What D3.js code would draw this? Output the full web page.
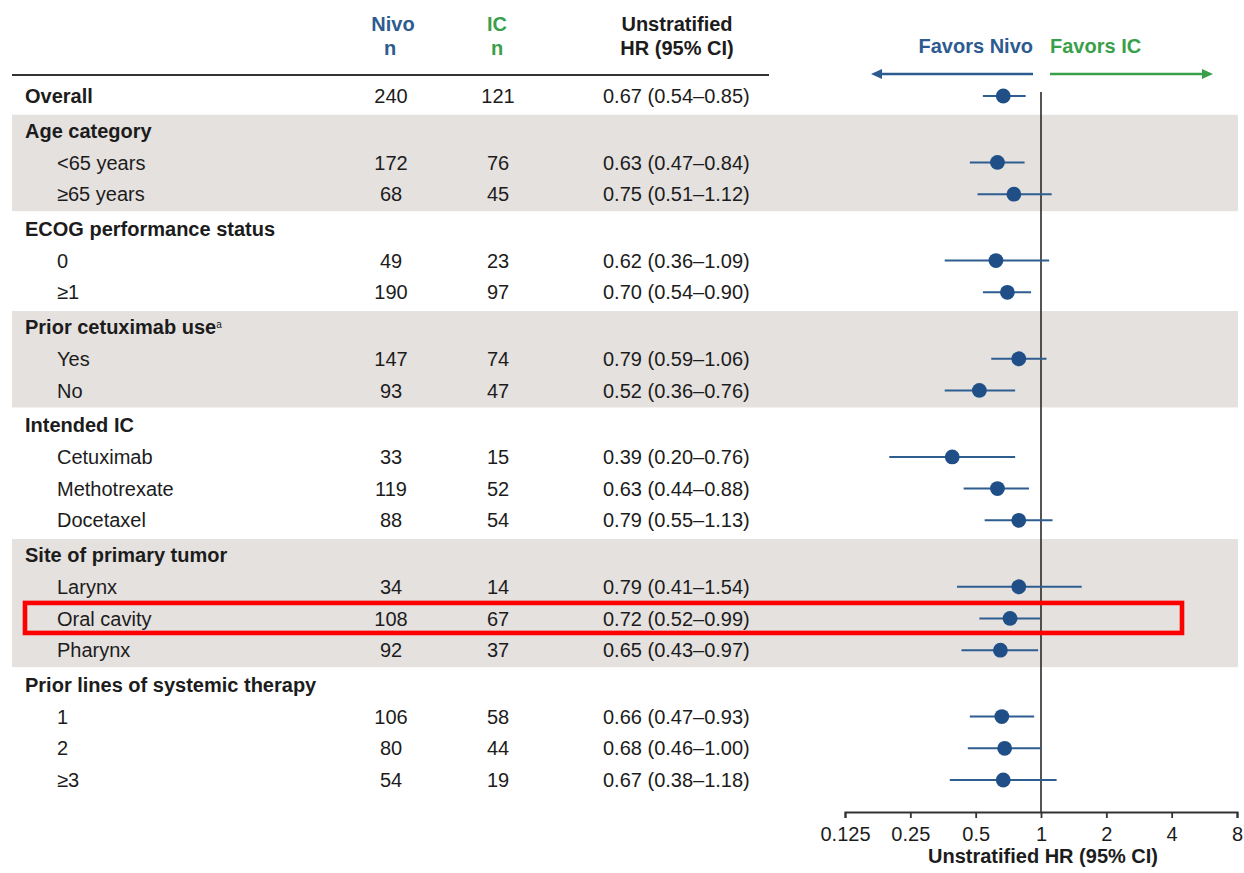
<!DOCTYPE html>
<html>
<head>
<meta charset="utf-8">
<script src="https://cdn.jsdelivr.net/npm/d3@7"></script>
<style>
  html, body { margin: 0; padding: 0; background: #ffffff; }
  svg { display: block; font-family: "Liberation Sans", Arial, sans-serif; }
</style>
</head>
<body>
<svg id="chart" width="1244" height="873"></svg>
<script>
// Subgroup rows of the forest plot
const rowLabels = [
  "Overall", "Age category", "<65 years", "≥65 years",
  "ECOG performance status", "0", "≥1",
  "Prior cetuximab use", "Yes", "No",
  "Intended IC", "Cetuximab", "Methotrexate", "Docetaxel",
  "Site of primary tumor", "Larynx", "Oral cavity", "Pharynx",
  "Prior lines of systemic therapy", "1", "2", "≥3"
];
const rowKinds = [
  "total", "group", "sub", "sub",
  "group", "sub", "sub",
  "group", "sub", "sub",
  "group", "sub", "sub", "sub",
  "group", "sub", "sub", "sub",
  "group", "sub", "sub", "sub"
];
const nivoN = [240, null, 172, 68, null, 49, 190, null, 147, 93, null, 33, 119, 88, null, 34, 108, 92, null, 106, 80, 54];
const icN   = [121, null, 76, 45, null, 23, 97, null, 74, 47, null, 15, 52, 54, null, 14, 67, 37, null, 58, 44, 19];
const hrEst = [0.67, null, 0.63, 0.75, null, 0.62, 0.70, null, 0.79, 0.52, null, 0.39, 0.63, 0.79, null, 0.79, 0.72, 0.65, null, 0.66, 0.68, 0.67];
const hrLow = [0.54, null, 0.47, 0.51, null, 0.36, 0.54, null, 0.59, 0.36, null, 0.20, 0.44, 0.55, null, 0.41, 0.52, 0.43, null, 0.47, 0.46, 0.38];
const hrHigh = [0.85, null, 0.84, 1.12, null, 1.09, 0.90, null, 1.06, 0.76, null, 0.76, 0.88, 1.13, null, 1.54, 0.99, 0.97, null, 0.93, 1.00, 1.18];

const shadedGroups = ["Age category", "Prior cetuximab use", "Site of primary tumor"];
const superscripts = { "Prior cetuximab use": "a" };
const highlightedRow = "Oral cavity";

const axisTicks = [0.125, 0.25, 0.5, 1, 2, 4, 8];
const axisTitle = "Unstratified HR (95% CI)";
const favorLeft = "Favors Nivo";
const favorRight = "Favors IC";

const colNivo = "#2d5b8f";
const colIC = "#3a9f4a";
const colMark = "#1f4f86";
const colLine = "#2e5d90";
const colText = "#1c1c1c";
const colBand = "#e4e1df";

const rows = rowLabels.map((label, i) => ({
  label, kind: rowKinds[i], nivo: nivoN[i], ic: icN[i],
  hr: hrEst[i], lo: hrLow[i], hi: hrHigh[i]
}));

// group headers sit slightly further from the row above them
let units = 0;
rows.forEach((r, i) => {
  if (i > 0) units += r.kind === "group" ? 1.096 : 1;
  r.u = units;
});

const svg = d3.select("#chart");
const y = d3.scaleLinear().domain([0, units]).range([96, 780]);
const x = d3.scaleLog().base(2).domain([0.125, 8]).range([845, 1237]);

const fs = 20;
const fmt = d3.format(".2f");

// shaded bands behind selected groups
shadedGroups.forEach(g => {
  const start = rows.findIndex(r => r.label === g);
  let end = start + 1;
  while (end < rows.length && rows[end].kind === "sub") end++;
  const top = y(rows[start].u) - 16;
  const bottom = y(rows[end - 1].u) + 17;
  svg.append("rect")
    .attr("x", 12).attr("y", top)
    .attr("width", 1226).attr("height", bottom - top)
    .attr("fill", colBand);
});

// column headers
const hdr = svg.append("g").attr("font-weight", "bold").attr("font-size", fs).attr("text-anchor", "middle");
hdr.append("text").attr("x", 393).attr("y", 31).attr("fill", colNivo).text("Nivo");
hdr.append("text").attr("x", 390).attr("y", 55).attr("fill", colNivo).text("n");
hdr.append("text").attr("x", 497).attr("y", 31).attr("fill", colIC).text("IC");
hdr.append("text").attr("x", 497).attr("y", 55).attr("fill", colIC).text("n");
hdr.append("text").attr("x", 677).attr("y", 31).attr("fill", colText).text("Unstratified");
hdr.append("text").attr("x", 677).attr("y", 55).attr("fill", colText).text("HR (95% CI)");

svg.append("line")
  .attr("x1", 12).attr("x2", 769).attr("y1", 75).attr("y2", 75)
  .attr("stroke", "#333").attr("stroke-width", 2.2);

// row labels and values
const rowG = svg.append("g").attr("font-size", fs).attr("fill", colText);
rows.forEach(r => {
  const cy = y(r.u);
  const t = rowG.append("text")
    .attr("x", r.kind === "sub" ? 57 : 25)
    .attr("y", cy).attr("dy", "0.36em")
    .attr("font-weight", r.kind === "sub" ? "normal" : "bold")
    .text(r.label);
  if (superscripts[r.label]) {
    t.append("tspan").attr("font-size", 10).attr("font-weight", "normal")
      .attr("dy", "-0.6em").text(superscripts[r.label]);
  }
  if (r.nivo != null) {
    rowG.append("text").attr("x", 391).attr("y", cy).attr("dy", "0.36em")
      .attr("text-anchor", "middle").text(r.nivo);
    rowG.append("text").attr("x", 498).attr("y", cy).attr("dy", "0.36em")
      .attr("text-anchor", "middle").text(r.ic);
    rowG.append("text").attr("x", 603).attr("y", cy).attr("dy", "0.36em")
      .text(`${fmt(r.hr)} (${fmt(r.lo)}–${fmt(r.hi)})`);
  }
});

// favors labels and arrows
const fav = svg.append("g").attr("font-weight", "bold").attr("font-size", fs);
fav.append("text").attr("x", 1033).attr("y", 53).attr("text-anchor", "end").attr("fill", colNivo).text(favorLeft);
fav.append("text").attr("x", 1050).attr("y", 53).attr("fill", colIC).text(favorRight);

const arrowY = 74;
svg.append("line").attr("x1", 878).attr("x2", 1033).attr("y1", arrowY).attr("y2", arrowY)
  .attr("stroke", colNivo).attr("stroke-width", 2.5);
svg.append("path").attr("d", `M871,${arrowY} L882,${arrowY - 5} L882,${arrowY + 5} Z`).attr("fill", colNivo);
svg.append("line").attr("x1", 1050).attr("x2", 1206).attr("y1", arrowY).attr("y2", arrowY)
  .attr("stroke", colIC).attr("stroke-width", 2.5);
svg.append("path").attr("d", `M1213,${arrowY} L1202,${arrowY - 5} L1202,${arrowY + 5} Z`).attr("fill", colIC);

// reference line at HR = 1
svg.append("line")
  .attr("x1", x(1)).attr("x2", x(1)).attr("y1", 92).attr("y2", 812)
  .attr("stroke", "#2a2a2a").attr("stroke-width", 1.6);

// confidence intervals and point estimates
const marks = svg.append("g");
rows.filter(r => r.hr != null).forEach(r => {
  const cy = y(r.u);
  marks.append("line")
    .attr("x1", x(r.lo)).attr("x2", x(r.hi)).attr("y1", cy).attr("y2", cy)
    .attr("stroke", colLine).attr("stroke-width", 2);
  marks.append("circle")
    .attr("cx", x(r.hr)).attr("cy", cy).attr("r", 7.4)
    .attr("fill", colMark);
});

// x axis
const axisG = svg.append("g").attr("transform", "translate(0,812)")
  .call(d3.axisBottom(x).tickValues(axisTicks).tickFormat(d => String(d)).tickSizeOuter(0).tickSize(6).tickPadding(9));
axisG.select(".domain").attr("stroke", "#333").attr("stroke-width", 2);
axisG.selectAll(".tick line").attr("stroke", "#333").attr("stroke-width", 1.8);
axisG.selectAll(".tick text").attr("font-size", 20).attr("fill", colText)
  .attr("font-family", "\"Liberation Sans\", Arial, sans-serif");

svg.append("text").attr("x", 1043).attr("y", 863).attr("text-anchor", "middle")
  .attr("font-size", fs).attr("font-weight", "bold").attr("fill", colText).text(axisTitle);

// highlight frame around one subgroup row
const hl = rows.find(r => r.label === highlightedRow);
const hy = y(hl.u);
svg.append("rect")
  .attr("x", 25).attr("y", hy - 15.5)
  .attr("width", 1157).attr("height", 30)
  .attr("fill", "none").attr("stroke", "#ff0000").attr("stroke-width", 4.6);
</script>
</body>
</html>
